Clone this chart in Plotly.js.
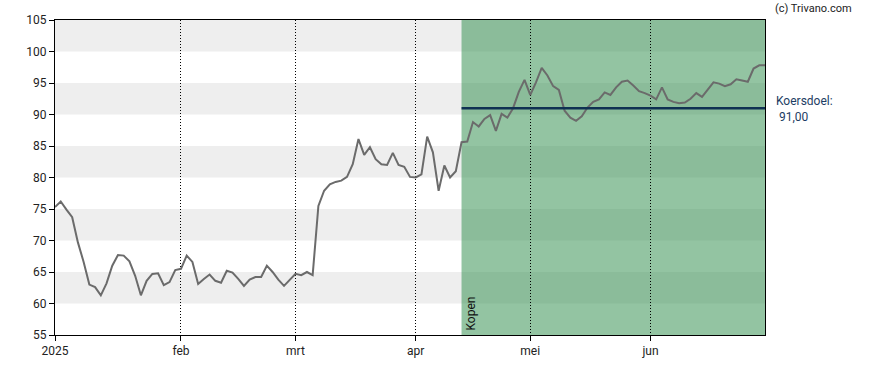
<!DOCTYPE html>
<html>
<head>
<meta charset="utf-8">
<script src="https://cdn.plot.ly/plotly-3.0.1.min.js"></script>
<style>html,body{margin:0;padding:0;background:#fff;}#chart{width:888px;height:370px;}</style>
</head>
<body>
<div id="chart"></div>
<script>
// Trading calendar (Euronext, 2025-01-02 .. 2025-06-30)
var startDate = "2025-01-02";
var endDate = "2025-06-30";
var holidays = ["2025-04-18", "2025-04-21", "2025-05-01"];

// Closing prices, one per trading day
var prices = [
  75.3, 76.2, 74.9, 73.7, 69.7, 66.6, 63.0, 62.6, 61.3, 63.2,
  66.0, 67.7, 67.6, 66.7, 64.4, 61.3, 63.6, 64.7, 64.8, 62.9,
  63.4, 65.3, 65.5, 67.6, 66.6, 63.1, 63.9, 64.6, 63.6, 63.3,
  65.2, 64.9, 63.9, 62.8, 63.8, 64.2, 64.2, 66.0, 65.0, 63.8,
  62.8, 63.7, 64.7, 64.5, 65.0, 64.5, 75.5, 77.9, 78.9, 79.3,
  79.5, 80.1, 82.1, 86.1, 83.6, 84.8, 82.9, 82.1, 82.0, 83.9,
  82.0, 81.7, 80.1, 80.0, 80.5, 86.5, 84.0, 77.9, 81.9, 80.0,
  81.0, 85.6, 85.7, 88.8, 88.1, 89.3, 89.9, 87.4, 90.1, 89.5,
  91.0, 93.6, 95.5, 93.1, 95.1, 97.4, 96.2, 94.5, 93.9, 90.6,
  89.5, 89.0, 89.7, 91.1, 92.0, 92.4, 93.5, 93.1, 94.3, 95.2,
  95.4, 94.6, 93.7, 93.4, 93.0, 92.4, 94.3, 92.4, 92.0, 91.8,
  91.9, 92.5, 93.4, 92.8, 93.9, 95.1, 94.9, 94.5, 94.8, 95.6,
  95.4, 95.2, 97.3, 97.8, 97.8
];

var tickDates = ["2025-01-02", "2025-02-03", "2025-03-03", "2025-04-01", "2025-05-02", "2025-06-02"];
var tickLabels = ["2025", "feb", "mrt", "apr", "mei", "jun"];
var yTicks = [55, 60, 65, 70, 75, 80, 85, 90, 95, 100, 105];

var adviceStart = "2025-04-11";
var adviceLabel = "Kopen";
var targetPrice = 91.0;
var targetLabel = "Koersdoel:<br> 91,00";
var bandRanges = [[60, 65], [70, 75], [80, 85], [90, 95], [100, 105]];

function pad(n){return n < 10 ? "0" + n : "" + n;}
function tradingDays(s, e, hol) {
  var out = [];
  var d = new Date(s + "T00:00:00Z");
  var end = new Date(e + "T00:00:00Z");
  while (d <= end) {
    var iso = d.getUTCFullYear() + "-" + pad(d.getUTCMonth() + 1) + "-" + pad(d.getUTCDate());
    var wd = d.getUTCDay();
    if (wd !== 0 && wd !== 6 && hol.indexOf(iso) < 0) out.push(iso);
    d = new Date(d.getTime() + 86400000);
  }
  return out;
}
var dates = tradingDays(startDate, endDate, holidays);

var shapes = [];
bandRanges.forEach(function(b){
  shapes.push({type:"rect", xref:"paper", yref:"y", x0:0, x1:1, y0:b[0], y1:b[1],
    fillcolor:"#eeeeee", line:{width:0}, layer:"below"});
});
shapes.push({type:"rect", xref:"x", yref:"paper", x0:adviceStart, x1:endDate, y0:0, y1:1,
  fillcolor:"rgb(51,144,80)", opacity:0.53, line:{width:0}, layer:"below"});
shapes.push({type:"line", xref:"x", yref:"y", x0:adviceStart, x1:endDate, y0:targetPrice, y1:targetPrice,
  line:{color:"#0f3152", width:2.5}, layer:"above"});

var trace = {
  x: dates, y: prices, type:"scatter", mode:"lines",
  line:{color:"#6b6b6b", width:2}, hoverinfo:"skip"
};

var layout = {
  width:888, height:370,
  margin:{l:55, r:123, t:20, b:35},
  paper_bgcolor:"#ffffff", plot_bgcolor:"#ffffff",
  font:{family:"Roboto, 'Liberation Sans', sans-serif", size:12, color:"#222222"},
  showlegend:false,
  xaxis:{
    type:"date",
    range:[startDate, endDate],
    rangebreaks:[{bounds:["sat","mon"]}, {values:holidays}],
    tickvals:tickDates, ticktext:tickLabels,
    showgrid:true, gridcolor:"#000000", griddash:"1px,2px", gridwidth:1,
    showline:true, mirror:true, linecolor:"#000000", linewidth:1,
    ticks:"outside", ticklen:5, tickcolor:"#000000",
    tickfont:{size:12, color:"#222222"},
    zeroline:false, fixedrange:true
  },
  yaxis:{
    range:[55, 105],
    tickvals:yTicks,
    showgrid:false,
    showline:true, mirror:true, linecolor:"#000000", linewidth:1,
    ticks:"outside", ticklen:5, tickcolor:"#000000",
    tickfont:{size:12, color:"#222222"},
    zeroline:false, fixedrange:true
  },
  shapes:shapes,
  annotations:[
    {xref:"paper", yref:"paper", x:1.011, y:1.035, xanchor:"left", yanchor:"middle",
      text:"(c) Trivano.com", showarrow:false, font:{size:11, color:"#222222"}},
    {xref:"paper", yref:"y", x:1.013, y:90.9, xanchor:"left", yanchor:"middle", align:"left",
      text:targetLabel, showarrow:false, font:{size:12, color:"#1d3d63"}},
    {xref:"x", yref:"paper", x:adviceStart, y:0, xanchor:"left", yanchor:"bottom", xshift:0, yshift:2,
      text:adviceLabel, textangle:-90, showarrow:false, font:{size:12, color:"#111111"}}
  ]
};

Plotly.newPlot("chart", [trace], layout, {displayModeBar:false, staticPlot:true});
</script>
</body>
</html>
